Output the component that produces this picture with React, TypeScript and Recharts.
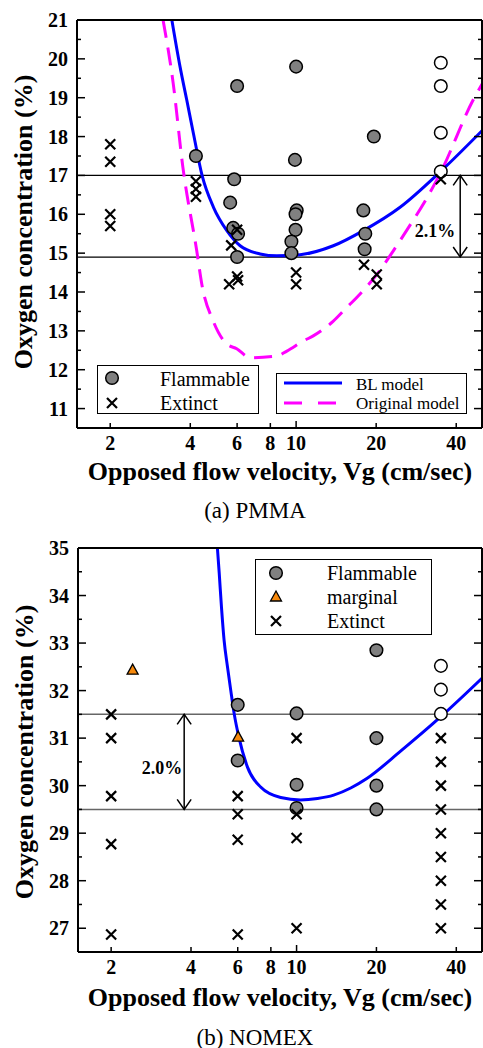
import React from 'react';
import { ComposedChart, Scatter, Line, XAxis, YAxis, ReferenceLine } from 'recharts';

const FONT = '"Liberation Serif", "Times New Roman", serif';

// shared x axis (log)
const X_DOMAIN = [1.5, 50];
const X_TICKS = [2, 4, 6, 8, 10, 20, 40];

// (a) PMMA
const PMMA_Y_DOMAIN = [10.5, 21];
const PMMA_Y_TICKS = [11, 11.5, 12, 12.5, 13, 13.5, 14, 14.5, 15, 15.5, 16, 16.5, 17, 17.5, 18, 18.5, 19, 19.5, 20, 20.5, 21];
const PMMA_FLAMMABLE = [
  { x: 4.2, y: 17.5 }, { x: 6, y: 19.3 }, { x: 5.85, y: 16.9 }, { x: 5.65, y: 16.3 },
  { x: 5.8, y: 15.65 }, { x: 6.05, y: 15.5 }, { x: 6, y: 14.9 },
  { x: 10, y: 19.8 }, { x: 9.9, y: 17.4 }, { x: 10.05, y: 16.1 }, { x: 9.95, y: 16.0 },
  { x: 9.95, y: 15.6 }, { x: 9.6, y: 15.3 }, { x: 9.6, y: 15.0 },
  { x: 19.6, y: 18.0 }, { x: 17.9, y: 16.1 }, { x: 18.2, y: 15.5 }, { x: 18.1, y: 15.1 },
];
const PMMA_OPEN = [{ x: 35, y: 19.9 }, { x: 35, y: 19.3 }, { x: 35, y: 18.1 }, { x: 35, y: 17.1 }];
const PMMA_EXTINCT = [
  { x: 2, y: 17.8 }, { x: 2, y: 17.35 }, { x: 2, y: 16.0 }, { x: 2, y: 15.7 },
  { x: 4.2, y: 16.85 }, { x: 4.2, y: 16.65 }, { x: 4.2, y: 16.45 },
  { x: 6, y: 15.6 }, { x: 5.7, y: 15.2 }, { x: 5.6, y: 14.2 }, { x: 6, y: 14.4 }, { x: 6.05, y: 14.3 },
  { x: 10, y: 14.5 }, { x: 10, y: 14.2 }, { x: 18, y: 14.7 }, { x: 20.1, y: 14.45 }, { x: 20.1, y: 14.2 },
  { x: 35, y: 16.9 },
];
const PMMA_BL = [
  { x: 3.41, y: 21 }, { x: 3.66, y: 19.8 }, { x: 3.88, y: 18.94 }, { x: 4.11, y: 18.08 },
  { x: 4.43, y: 17.0 }, { x: 4.89, y: 16.18 }, { x: 5.49, y: 15.58 }, { x: 6.16, y: 15.19 },
  { x: 7.32, y: 14.98 }, { x: 8.46, y: 14.93 }, { x: 10.35, y: 14.96 }, { x: 13.8, y: 15.19 },
  { x: 17.9, y: 15.58 }, { x: 24.6, y: 16.18 }, { x: 34.8, y: 17.09 }, { x: 50, y: 18.15 },
];
const PMMA_ORIGINAL = [
  { x: 3.16, y: 21 }, { x: 3.45, y: 19.37 }, { x: 3.75, y: 17.22 }, { x: 4.23, y: 15.06 },
  { x: 4.42, y: 14.2 }, { x: 4.88, y: 13.25 }, { x: 5.49, y: 12.66 }, { x: 5.98, y: 12.54 },
  { x: 6.71, y: 12.31 }, { x: 8.46, y: 12.35 }, { x: 9.23, y: 12.48 }, { x: 10.65, y: 12.74 },
  { x: 11.6, y: 12.87 }, { x: 13.8, y: 13.25 }, { x: 15.5, y: 13.6 }, { x: 17.4, y: 13.95 },
  { x: 20.1, y: 14.45 }, { x: 23.2, y: 15.06 }, { x: 26.3, y: 15.63 }, { x: 31.4, y: 16.48 },
  { x: 34.8, y: 17.05 }, { x: 46.3, y: 18.94 }, { x: 50, y: 19.35 },
];
const PMMA_LIMITS = [17, 14.9];
const PMMA_ARROW_X = 41.4;

// (b) NOMEX
const NOMEX_Y_DOMAIN = [26.5, 35];
const NOMEX_Y_TICKS = [27, 27.5, 28, 28.5, 29, 29.5, 30, 30.5, 31, 31.5, 32, 32.5, 33, 33.5, 34, 34.5, 35];
const NOMEX_FLAMMABLE = [
  { x: 6, y: 31.7 }, { x: 6, y: 30.53 }, { x: 10, y: 31.52 }, { x: 10, y: 30.02 }, { x: 10, y: 29.53 },
  { x: 20, y: 32.85 }, { x: 20, y: 31.0 }, { x: 20, y: 30.0 }, { x: 20, y: 29.5 },
];
const NOMEX_OPEN = [{ x: 35, y: 32.52 }, { x: 35, y: 32.02 }, { x: 35, y: 31.51 }];
const NOMEX_MARGINAL = [{ x: 2.41, y: 32.43 }, { x: 6.02, y: 31.02 }];
const NOMEX_EXTINCT = [
  { x: 2, y: 31.5 }, { x: 2, y: 31.0 }, { x: 2, y: 29.78 }, { x: 2, y: 28.77 }, { x: 2, y: 26.87 },
  { x: 6, y: 29.78 }, { x: 6, y: 29.4 }, { x: 6, y: 28.86 }, { x: 6, y: 26.87 },
  { x: 10, y: 31.0 }, { x: 10, y: 29.4 }, { x: 10, y: 28.9 }, { x: 10, y: 27.0 },
  { x: 35, y: 31 }, { x: 35, y: 30.5 }, { x: 35, y: 30 }, { x: 35, y: 29.5 }, { x: 35, y: 29 },
  { x: 35, y: 28.5 }, { x: 35, y: 28 }, { x: 35, y: 27.5 }, { x: 35, y: 27 },
];
const NOMEX_BL = [
  { x: 5.03, y: 35 }, { x: 5.11, y: 34.47 }, { x: 5.21, y: 33.76 }, { x: 5.33, y: 33.06 },
  { x: 5.49, y: 32.5 }, { x: 5.65, y: 32.0 }, { x: 5.82, y: 31.51 }, { x: 6.06, y: 31.02 },
  { x: 6.53, y: 30.39 }, { x: 7.32, y: 29.97 }, { x: 8.71, y: 29.75 }, { x: 10.35, y: 29.7 },
  { x: 12.0, y: 29.73 }, { x: 13.8, y: 29.8 }, { x: 16.0, y: 29.95 }, { x: 18.4, y: 30.15 },
  { x: 24.6, y: 30.72 }, { x: 34.8, y: 31.44 }, { x: 50, y: 32.26 },
];
const NOMEX_LIMITS = [31.5, 29.5];
const NOMEX_ARROW_X = 3.77;

// ---- marks ----
const dot = (fill: string) => (p: any) => (
  <circle cx={p.cx} cy={p.cy} r={6.3} fill={fill} stroke="#000" strokeWidth={1.5} />
);
const cross = (p: any) => (
  <path
    d={`M${p.cx - 5},${p.cy - 5}L${p.cx + 5},${p.cy + 5}M${p.cx - 5},${p.cy + 5}L${p.cx + 5},${p.cy - 5}`}
    stroke="#000"
    strokeWidth={2.2}
  />
);
const triangle = (p: any) => (
  <path
    d={`M${p.cx},${p.cy - 6}L${p.cx + 5.5},${p.cy + 4}L${p.cx - 5.5},${p.cy + 4}Z`}
    fill="#F7890C"
    stroke="#000"
    strokeWidth={1.3}
  />
);

// ---- ticks (drawn inward) ----
const LeftTick = (props: any) => {
  const { x, y, payload } = props;
  const major = Number.isInteger(payload.value);
  return (
    <g>
      <line x1={x} x2={x + (major ? 8 : 4)} y1={y} y2={y} stroke="#000" strokeWidth={1.5} />
      {major && (
        <text x={x - 9} y={y} dy="0.35em" textAnchor="end" fontFamily={FONT} fontWeight="bold" fontSize={20} fill="#000">
          {payload.value}
        </text>
      )}
    </g>
  );
};
const RightTick = (props: any) => {
  const { x, y, payload } = props;
  const major = Number.isInteger(payload.value);
  return <line x1={x} x2={x - (major ? 8 : 4)} y1={y} y2={y} stroke="#000" strokeWidth={1.5} />;
};
const BottomTick = (props: any) => {
  const { x, y, payload } = props;
  return (
    <g>
      <line x1={x} x2={x} y1={y} y2={y - (payload.value === 10 ? 7 : 5)} stroke="#000" strokeWidth={1.5} />
      <text x={x} y={y + 15} dy="0.35em" textAnchor="middle" fontFamily={FONT} fontWeight="bold" fontSize={20} fill="#000">
        {payload.value}
      </text>
    </g>
  );
};
const TopTick = (props: any) => {
  const { x, y, payload } = props;
  return <line x1={x} x2={x} y1={y} y2={y + (payload.value === 10 ? 7 : 5)} stroke="#000" strokeWidth={1.5} />;
};

const arrowShape = (label: string, dy: number, gap: number) => (p: any) => {
  const top = Math.min(p.y1, p.y2);
  const bot = Math.max(p.y1, p.y2);
  const x = p.x1;
  return (
    <g>
      <line x1={x} x2={x} y1={top} y2={bot} stroke="#000" strokeWidth={1.5} />
      <polyline points={`${x - 7},${top + 10} ${x},${top} ${x + 7},${top + 10}`} fill="none" stroke="#000" strokeWidth={1.5} />
      <polyline points={`${x - 7},${bot - 10} ${x},${bot} ${x + 7},${bot - 10}`} fill="none" stroke="#000" strokeWidth={1.5} />
      <text x={x - gap} y={(top + bot) / 2 + dy} dy="0.35em" textAnchor="end" fontFamily={FONT} fontWeight="bold" fontSize={18} fill="#000">
        {label}
      </text>
    </g>
  );
};

const axisLine = { stroke: '#000', strokeWidth: 2 };

type PanelProps = {
  top: number;
  height: number;
  yWidth: number;
  yDomain: number[];
  yTicks: number[];
  children: React.ReactNode;
};

const Panel = ({ top, height, yWidth, yDomain, yTicks, children }: PanelProps) => (
  <div style={{ position: 'absolute', left: 0, top }}>
    <ComposedChart width={483} height={height} margin={{ top: 19, right: 0, bottom: 20, left: 0 }}>
      <XAxis
        xAxisId="b"
        dataKey="x"
        type="number"
        scale="log"
        domain={X_DOMAIN}
        ticks={X_TICKS}
        allowDataOverflow
        height={22}
        tickSize={0}
        tickMargin={0}
        tickLine={false}
        axisLine={axisLine}
        tick={<BottomTick />}
        interval={0}
      />
      <XAxis
        xAxisId="t"
        orientation="top"
        type="number"
        scale="log"
        domain={X_DOMAIN}
        ticks={X_TICKS}
        allowDataOverflow
        height={1}
        tickSize={0}
        tickMargin={0}
        tickLine={false}
        axisLine={axisLine}
        tick={<TopTick />}
        interval={0}
      />
      <YAxis
        yAxisId="l"
        dataKey="y"
        type="number"
        domain={yDomain}
        ticks={yTicks}
        allowDataOverflow
        width={yWidth}
        tickSize={0}
        tickMargin={0}
        tickLine={false}
        axisLine={axisLine}
        tick={<LeftTick />}
        interval={0}
      />
      <YAxis
        yAxisId="r"
        orientation="right"
        type="number"
        domain={yDomain}
        ticks={yTicks}
        allowDataOverflow
        width={1}
        tickSize={0}
        tickMargin={0}
        tickLine={false}
        axisLine={axisLine}
        tick={<RightTick />}
        interval={0}
      />
      {children}
    </ComposedChart>
  </div>
);

const Text = ({ x, y, size, bold, children, rotate }: any) => (
  <div
    style={{
      position: 'absolute',
      left: x,
      top: y,
      transform: `translate(-50%, -50%)${rotate ? ' rotate(-90deg)' : ''}`,
      fontSize: size,
      lineHeight: `${size}px`,
      fontWeight: bold ? 'bold' : 'normal',
      whiteSpace: 'nowrap',
    }}
  >
    {children}
  </div>
);

const LegendText = ({ x, y, size, children }: any) => (
  <div style={{ position: 'absolute', left: x, top: y - size / 2, fontSize: size, lineHeight: `${size}px`, whiteSpace: 'nowrap' }}>
    {children}
  </div>
);

const Marker = ({ x, y, children }: any) => (
  <svg style={{ position: 'absolute', left: x - 10, top: y - 10 }} width={20} height={20}>
    {children}
  </svg>
);

const Frame = ({ x, y, w, h }: any) => (
  <div style={{ position: 'absolute', left: x, top: y, width: w, height: h, border: '1.5px solid #000', background: '#fff', boxSizing: 'border-box' }} />
);

const S = { cx: 10, cy: 10 };

export default function App() {
  return (
    <div style={{ position: 'absolute', left: 0, top: 0, width: 483, height: 1048, background: '#fff', fontFamily: FONT, color: '#000', overflow: 'hidden' }}>
      <Panel top={0} height={470} yWidth={77} yDomain={PMMA_Y_DOMAIN} yTicks={PMMA_Y_TICKS}>
        {PMMA_LIMITS.map((v) => (
          <ReferenceLine key={v} xAxisId="b" yAxisId="l" y={v} stroke="#000" strokeWidth={1.3} />
        ))}
        <ReferenceLine
          xAxisId="b"
          yAxisId="l"
          segment={[{ x: PMMA_ARROW_X, y: PMMA_LIMITS[0] }, { x: PMMA_ARROW_X, y: PMMA_LIMITS[1] }]}
          shape={arrowShape('2.1%', 14, 5)}
        />
        <Scatter xAxisId="b" yAxisId="l" data={PMMA_FLAMMABLE} shape={dot('#808080')} isAnimationActive={false} />
        <Scatter xAxisId="b" yAxisId="l" data={PMMA_OPEN} shape={dot('#fff')} isAnimationActive={false} />
        <Scatter xAxisId="b" yAxisId="l" data={PMMA_EXTINCT} shape={cross} isAnimationActive={false} />
        <Line xAxisId="b" yAxisId="l" data={PMMA_ORIGINAL} dataKey="y" type="monotone" stroke="#FF00FF" strokeWidth={3} strokeDasharray="18 10" dot={false} activeDot={false} isAnimationActive={false} />
        <Line xAxisId="b" yAxisId="l" data={PMMA_BL} dataKey="y" type="monotone" stroke="#0000FF" strokeWidth={3} dot={false} activeDot={false} isAnimationActive={false} />
      </Panel>

      <Panel top={528} height={466} yWidth={78} yDomain={NOMEX_Y_DOMAIN} yTicks={NOMEX_Y_TICKS}>
        {NOMEX_LIMITS.map((v) => (
          <ReferenceLine key={v} xAxisId="b" yAxisId="l" y={v} stroke="#666" strokeWidth={1.5} />
        ))}
        <ReferenceLine
          xAxisId="b"
          yAxisId="l"
          segment={[{ x: NOMEX_ARROW_X, y: NOMEX_LIMITS[0] }, { x: NOMEX_ARROW_X, y: NOMEX_LIMITS[1] }]}
          shape={arrowShape('2.0%', 6, 2)}
        />
        <Scatter xAxisId="b" yAxisId="l" data={NOMEX_FLAMMABLE} shape={dot('#808080')} isAnimationActive={false} />
        <Scatter xAxisId="b" yAxisId="l" data={NOMEX_OPEN} shape={dot('#fff')} isAnimationActive={false} />
        <Scatter xAxisId="b" yAxisId="l" data={NOMEX_MARGINAL} shape={triangle} isAnimationActive={false} />
        <Scatter xAxisId="b" yAxisId="l" data={NOMEX_EXTINCT} shape={cross} isAnimationActive={false} />
        <Line xAxisId="b" yAxisId="l" data={NOMEX_BL} dataKey="y" type="monotone" stroke="#0000FF" strokeWidth={3} dot={false} activeDot={false} isAnimationActive={false} />
      </Panel>

      {/* axis titles and captions */}
      <Text x={24} y={222} size={26} bold rotate>Oxygen concentration (%)</Text>
      <Text x={280} y={472} size={26} bold>Opposed flow velocity, Vg (cm/sec)</Text>
      <Text x={255} y={510} size={23}>(a) PMMA</Text>
      <Text x={25} y={752} size={26} bold rotate>Oxygen concentration (%)</Text>
      <Text x={280} y={998} size={26} bold>Opposed flow velocity, Vg (cm/sec)</Text>
      <Text x={255} y={1037} size={23}>(b) NOMEX</Text>

      {/* PMMA legends */}
      <Frame x={97} y={365} w={162} h={49} />
      <Marker x={112} y={378}>{dot('#808080')(S)}</Marker>
      <Marker x={112} y={403}>{cross(S)}</Marker>
      <LegendText x={160} y={379} size={20}>Flammable</LegendText>
      <LegendText x={160} y={403} size={20}>Extinct</LegendText>

      <Frame x={276} y={373} w={191} h={41} />
      <svg style={{ position: 'absolute', left: 284, top: 376 }} width={60} height={34}>
        <line x1={0} x2={58} y1={7} y2={7} stroke="#0000FF" strokeWidth={3} />
        <line x1={0} x2={58} y1={27} y2={27} stroke="#FF00FF" strokeWidth={3} strokeDasharray="18 16" />
      </svg>
      <LegendText x={356} y={384} size={17}>BL model</LegendText>
      <LegendText x={356} y={403} size={17}>Original model</LegendText>

      {/* NOMEX legend */}
      <Frame x={255} y={559} w={177} h={76} />
      <Marker x={276} y={573}>{dot('#808080')(S)}</Marker>
      <Marker x={276} y={597}>{triangle(S)}</Marker>
      <Marker x={276} y={621}>{cross(S)}</Marker>
      <LegendText x={327} y={573} size={20}>Flammable</LegendText>
      <LegendText x={327} y={597} size={20}>marginal</LegendText>
      <LegendText x={327} y={621} size={20}>Extinct</LegendText>
    </div>
  );
}
